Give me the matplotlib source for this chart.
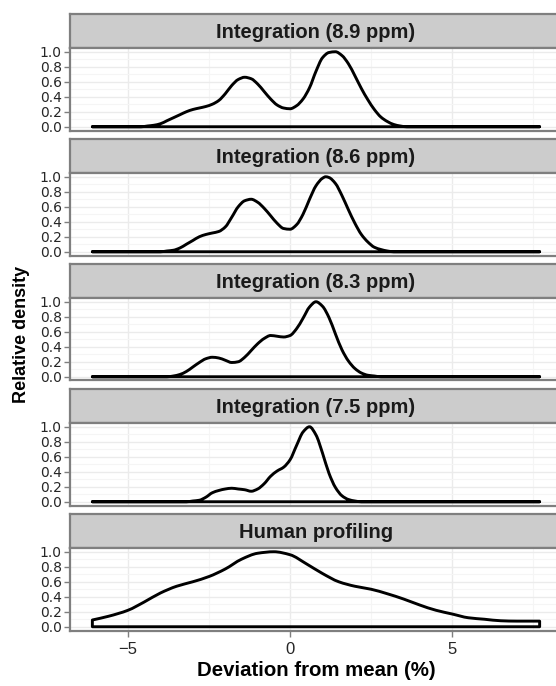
import numpy as np
import matplotlib
matplotlib.use("Agg")
from matplotlib import pyplot as plt
from matplotlib.path import Path
from matplotlib.patches import PathPatch
from matplotlib.ticker import MultipleLocator

plt.rcParams["font.family"] = ["Liberation Sans", "DejaVu Sans"]

# panel titles, top to bottom
titles = ["Integration (8.9 ppm)", "Integration (8.6 ppm)", "Integration (8.3 ppm)",
          "Integration (7.5 ppm)", "Human profiling"]

# relative density curves
x_89 = [-6.1, -4.6, -4.4, -4.2, -4.0, -3.8, -3.6, -3.4, -3.2, -3.0, -2.8, -2.6, -2.4, -2.2,
        -2.0, -1.8, -1.6, -1.4, -1.2, -1.0, -0.8, -0.6, -0.4, -0.2, 0.0, 0.2, 0.4, 0.6,
        0.8, 1.0, 1.2, 1.4, 1.6, 1.8, 2.0, 2.2, 2.4, 2.6, 2.8, 3.0, 3.2, 3.4, 3.6, 7.7]
y_89 = [0.0, 0.0, 0.01, 0.02, 0.04, 0.08, 0.12, 0.16, 0.20, 0.23, 0.25, 0.27, 0.30, 0.35,
        0.44, 0.55, 0.63, 0.66, 0.64, 0.57, 0.47, 0.37, 0.29, 0.25, 0.24, 0.28, 0.37, 0.52,
        0.74, 0.92, 0.99, 1.0, 0.95, 0.84, 0.68, 0.51, 0.36, 0.23, 0.13, 0.07, 0.03, 0.01, 0.0, 0.0]

x_86 = [-6.1, -4.0, -3.8, -3.6, -3.4, -3.2, -3.0, -2.8, -2.6, -2.4, -2.2, -2.0, -1.8, -1.6,
        -1.4, -1.2, -1.0, -0.8, -0.6, -0.4, -0.2, 0.0, 0.2, 0.4, 0.6, 0.8, 1.0, 1.1, 1.2,
        1.4, 1.6, 1.8, 2.0, 2.2, 2.4, 2.6, 2.8, 3.0, 3.2, 7.7]
y_86 = [0.0, 0.0, 0.01, 0.02, 0.05, 0.10, 0.15, 0.20, 0.23, 0.25, 0.27, 0.33, 0.46, 0.60,
        0.68, 0.70, 0.66, 0.58, 0.48, 0.38, 0.31, 0.30, 0.36, 0.50, 0.70, 0.88, 0.98, 1.0, 0.99,
        0.91, 0.75, 0.56, 0.38, 0.23, 0.13, 0.06, 0.03, 0.01, 0.0, 0.0]

x_83 = [-6.1, -3.8, -3.6, -3.4, -3.2, -3.0, -2.8, -2.6, -2.4, -2.2, -2.0, -1.8, -1.6, -1.4,
        -1.2, -1.0, -0.8, -0.6, -0.4, -0.2, 0.0, 0.2, 0.4, 0.6, 0.8, 1.0, 1.2, 1.4, 1.6,
        1.8, 2.0, 2.2, 2.4, 2.6, 2.8, 7.7]
y_83 = [0.0, 0.0, 0.01, 0.03, 0.07, 0.13, 0.19, 0.24, 0.26, 0.25, 0.22, 0.19, 0.20, 0.26,
        0.35, 0.44, 0.51, 0.55, 0.54, 0.53, 0.55, 0.64, 0.78, 0.93, 1.0, 0.94, 0.79, 0.57, 0.36,
        0.21, 0.11, 0.05, 0.02, 0.01, 0.0, 0.0]

x_75 = [-6.1, -3.2, -3.0, -2.8, -2.6, -2.4, -2.2, -2.0, -1.8, -1.6, -1.4, -1.2, -1.0, -0.8,
        -0.6, -0.4, -0.2, 0.0, 0.2, 0.4, 0.6, 0.8, 1.0, 1.2, 1.4, 1.6, 1.8, 2.0, 2.2, 7.7]
y_75 = [0.0, 0.0, 0.01, 0.02, 0.06, 0.12, 0.15, 0.17, 0.18, 0.17, 0.16, 0.14, 0.17, 0.24,
        0.34, 0.41, 0.46, 0.56, 0.75, 0.93, 1.0, 0.89, 0.65, 0.38, 0.19, 0.08, 0.03, 0.01, 0.0, 0.0]

x_hum = [-6.1, -5.6, -5.0, -4.5, -4.0, -3.5, -3.0, -2.5, -2.0, -1.5, -1.0, -0.5, 0.0, 0.5,
         1.0, 1.5, 2.0, 2.5, 3.0, 3.5, 4.0, 4.5, 5.0, 5.5, 6.0, 6.5, 7.0, 7.7]
y_hum = [0.09, 0.14, 0.22, 0.33, 0.45, 0.54, 0.60, 0.67, 0.77, 0.90, 0.98, 1.0, 0.96, 0.84,
         0.71, 0.60, 0.54, 0.50, 0.44, 0.37, 0.29, 0.22, 0.17, 0.12, 0.10, 0.08, 0.075, 0.075]

curves = [(x_89, y_89), (x_86, y_86), (x_83, y_83), (x_75, y_75), (x_hum, y_hum)]


def pchip_slopes(xs, ys):
    h = np.diff(xs)
    d = np.diff(ys) / h
    m = np.zeros_like(ys)
    m[0], m[-1] = d[0], d[-1]
    for k in range(1, len(xs) - 1):
        if d[k - 1] * d[k] <= 0:
            continue
        w1 = 2 * h[k] + h[k - 1]
        w2 = h[k] + 2 * h[k - 1]
        m[k] = (w1 + w2) / (w1 / d[k - 1] + w2 / d[k])
    return m


def density_path(xs, ys):
    # smooth outline through the read points, closed down to the baseline
    xs, ys = np.asarray(xs, float), np.asarray(ys, float)
    m = pchip_slopes(xs, ys)
    verts = [(xs[0], 0.0), (xs[0], ys[0])]
    codes = [Path.MOVETO, Path.LINETO]
    for k in range(len(xs) - 1):
        h = xs[k + 1] - xs[k]
        verts += [(xs[k] + h / 3, ys[k] + m[k] * h / 3),
                  (xs[k + 1] - h / 3, ys[k + 1] - m[k + 1] * h / 3),
                  (xs[k + 1], ys[k + 1])]
        codes += [Path.CURVE4] * 3
    verts += [(xs[-1], 0.0), (xs[0], 0.0)]
    codes += [Path.LINETO, Path.CLOSEPOLY]
    return Path(verts, codes)


W, H = 556, 686
fig = plt.figure(figsize=(W / 100, H / 100), dpi=100)

left, right = 70, 562          # panels run past the right edge, as in the reference
strip_h, panel_h, step, top0 = 34, 82.5, 125, 14
xlim = (-6.79, 8.39)
border = "#7f7f7f"
tick_col = "#262626"

def box(l, t, w, h):
    return [l / W, 1 - (t + h) / H, w / W, h / H]

for i, (title, (xs, ys)) in enumerate(zip(titles, curves)):
    top = top0 + i * step

    st = fig.add_axes(box(left, top, right - left, strip_h))
    st.set_facecolor("#cccccc")
    st.set_xticks([])
    st.set_yticks([])
    for s in st.spines.values():
        s.set_color(border)
        s.set_linewidth(1.6)
    st.text(0.5, 0.47, title, ha="center", va="center", fontsize=14.5,
            fontweight="bold", color="#1a1a1a", transform=st.transAxes)

    ax = fig.add_axes(box(left, top + strip_h, right - left, panel_h))
    ax.set_xlim(xlim)
    ax.set_ylim(-0.05, 1.05)
    ax.xaxis.set_major_locator(MultipleLocator(5))
    ax.xaxis.set_minor_locator(MultipleLocator(2.5))
    ax.yaxis.set_major_locator(MultipleLocator(0.2))
    ax.yaxis.set_minor_locator(MultipleLocator(0.1))
    ax.grid(which="major", color="#ebebeb", linewidth=1.0)
    ax.grid(which="minor", color="#f5f5f5", linewidth=0.8)
    ax.set_axisbelow(True)
    for s in ax.spines.values():
        s.set_color(border)
        s.set_linewidth(1.6)

    ax.add_patch(PathPatch(density_path(xs, ys), facecolor="none", edgecolor="black",
                           linewidth=2.1, joinstyle="round", zorder=3))

    ax.tick_params(which="minor", length=0)
    ax.tick_params(axis="y", which="major", length=4, width=1, color=border, pad=2)
    ax.set_yticks(np.arange(0, 1.01, 0.2))
    ax.set_yticklabels([f"{v:.1f}" for v in np.arange(0, 1.01, 0.2)],
                       family="DejaVu Sans", fontsize=10, color=tick_col)
    if i < len(titles) - 1:
        ax.tick_params(axis="x", which="major", length=0, labelbottom=False)
    else:
        ax.tick_params(axis="x", which="major", length=4, width=1, color=border,
                       labelsize=12, labelcolor=tick_col, pad=4)

fig.text(316 / W, 1 - 671 / H, "Deviation from mean (%)", ha="center", va="center",
         fontsize=14.7, fontweight="bold")
fig.text(22 / W, 1 - 334 / H, "Relative density", ha="center", va="center",
         rotation=90, fontsize=13, fontweight="bold")

fig.savefig("out.png", dpi=100)
